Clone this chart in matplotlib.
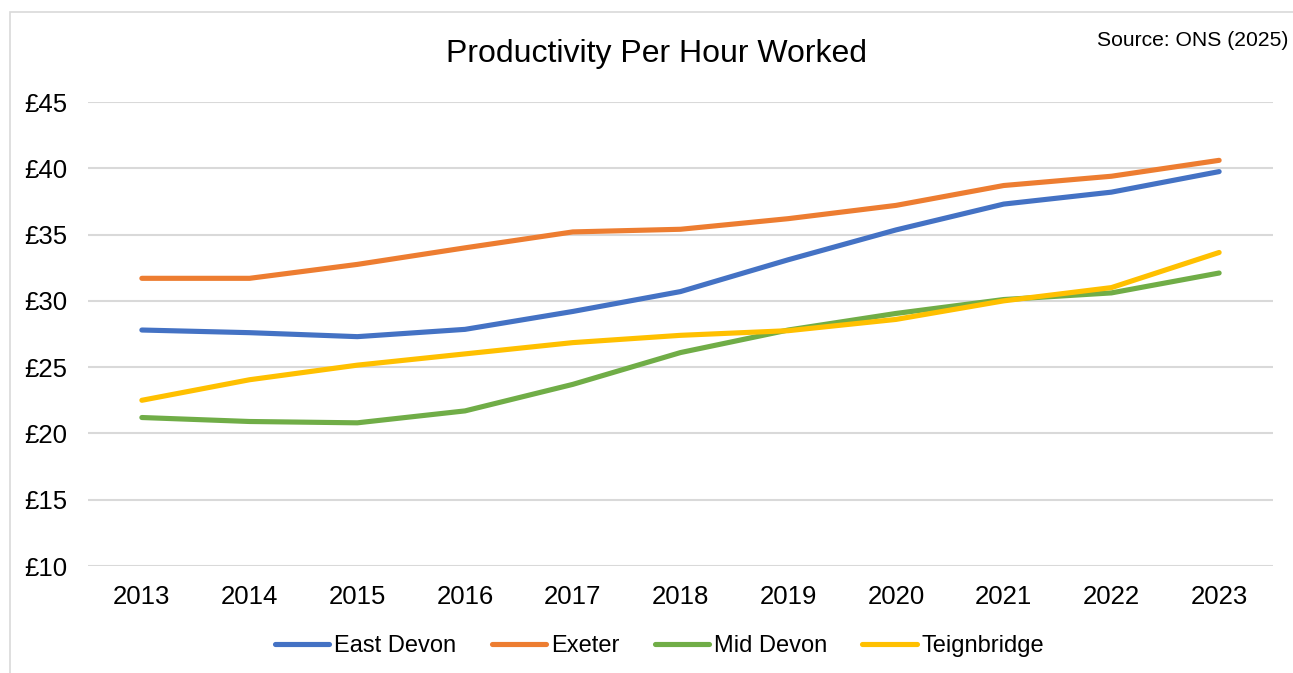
import matplotlib.pyplot as plt
from matplotlib.patches import Rectangle

plt.rcParams['font.family'] = ['Liberation Sans', 'DejaVu Sans']

years = [2013, 2014, 2015, 2016, 2017, 2018, 2019, 2020, 2021, 2022, 2023]
east_devon = [27.8, 27.6, 27.3, 27.85, 29.2, 30.7, 33.1, 35.35, 37.3, 38.2, 39.75]
exeter = [31.7, 31.7, 32.75, 34.0, 35.2, 35.4, 36.2, 37.2, 38.7, 39.4, 40.6]
mid_devon = [21.2, 20.9, 20.8, 21.7, 23.7, 26.1, 27.8, 29.05, 30.1, 30.6, 32.1]
teignbridge = [22.5, 24.05, 25.15, 26.0, 26.85, 27.4, 27.75, 28.6, 30.0, 31.0, 33.65]

series = [
    ('East Devon', east_devon, '#4472C4'),
    ('Exeter', exeter, '#ED7D31'),
    ('Mid Devon', mid_devon, '#70AD47'),
    ('Teignbridge', teignbridge, '#FFC000'),
]
y_ticks = [10, 15, 20, 25, 30, 35, 40, 45]

fig = plt.figure(figsize=(12.93, 6.73), dpi=100)
ax = fig.add_axes([88 / 1293, 1 - 566 / 673, (1273 - 88) / 1293, (566 - 102) / 673])

for name, vals, col in series:
    ax.plot(years, vals, color=col, lw=3.7, solid_capstyle='round', label=name, zorder=3)

ax.set_xlim(2012.5, 2023.5)
ax.set_ylim(10, 45)
ax.set_xticks(years)
ax.set_xticklabels([str(y) for y in years])
ax.set_yticks(y_ticks)
ax.set_yticklabels([f'£{v}' for v in y_ticks])
ax.grid(axis='y', color='#D9D9D9', lw=1.5, zorder=0)
for s in ax.spines.values():
    s.set_visible(False)
ax.tick_params(axis='both', length=0, labelsize=18.5, colors='black')
ax.tick_params(axis='y', pad=15)
ax.tick_params(axis='x', pad=13.5)

fig.text(656 / 1293, 1 - 54 / 673, 'Productivity Per Hour Worked', ha='center', va='center', fontsize=23)
fig.text(1288 / 1293, 1 - 40 / 673, 'Source: ONS (2025)', ha='right', va='center', fontsize=15.2)

fig.legend(loc='center', bbox_to_anchor=(0.5 + 13 / 1293, 1 - 646 / 673), ncol=4, frameon=False,
           fontsize=17, handlelength=2.3, handletextpad=0.2, columnspacing=1.5)

# light outer frame of the chart area
fig.patches.append(Rectangle((10 / 1293, -0.02), 1.0, 1 - 12 / 673 + 0.02, transform=fig.transFigure,
                             fill=False, edgecolor='#D9D9D9', lw=1.2))

fig.savefig('out.png', dpi=100)
